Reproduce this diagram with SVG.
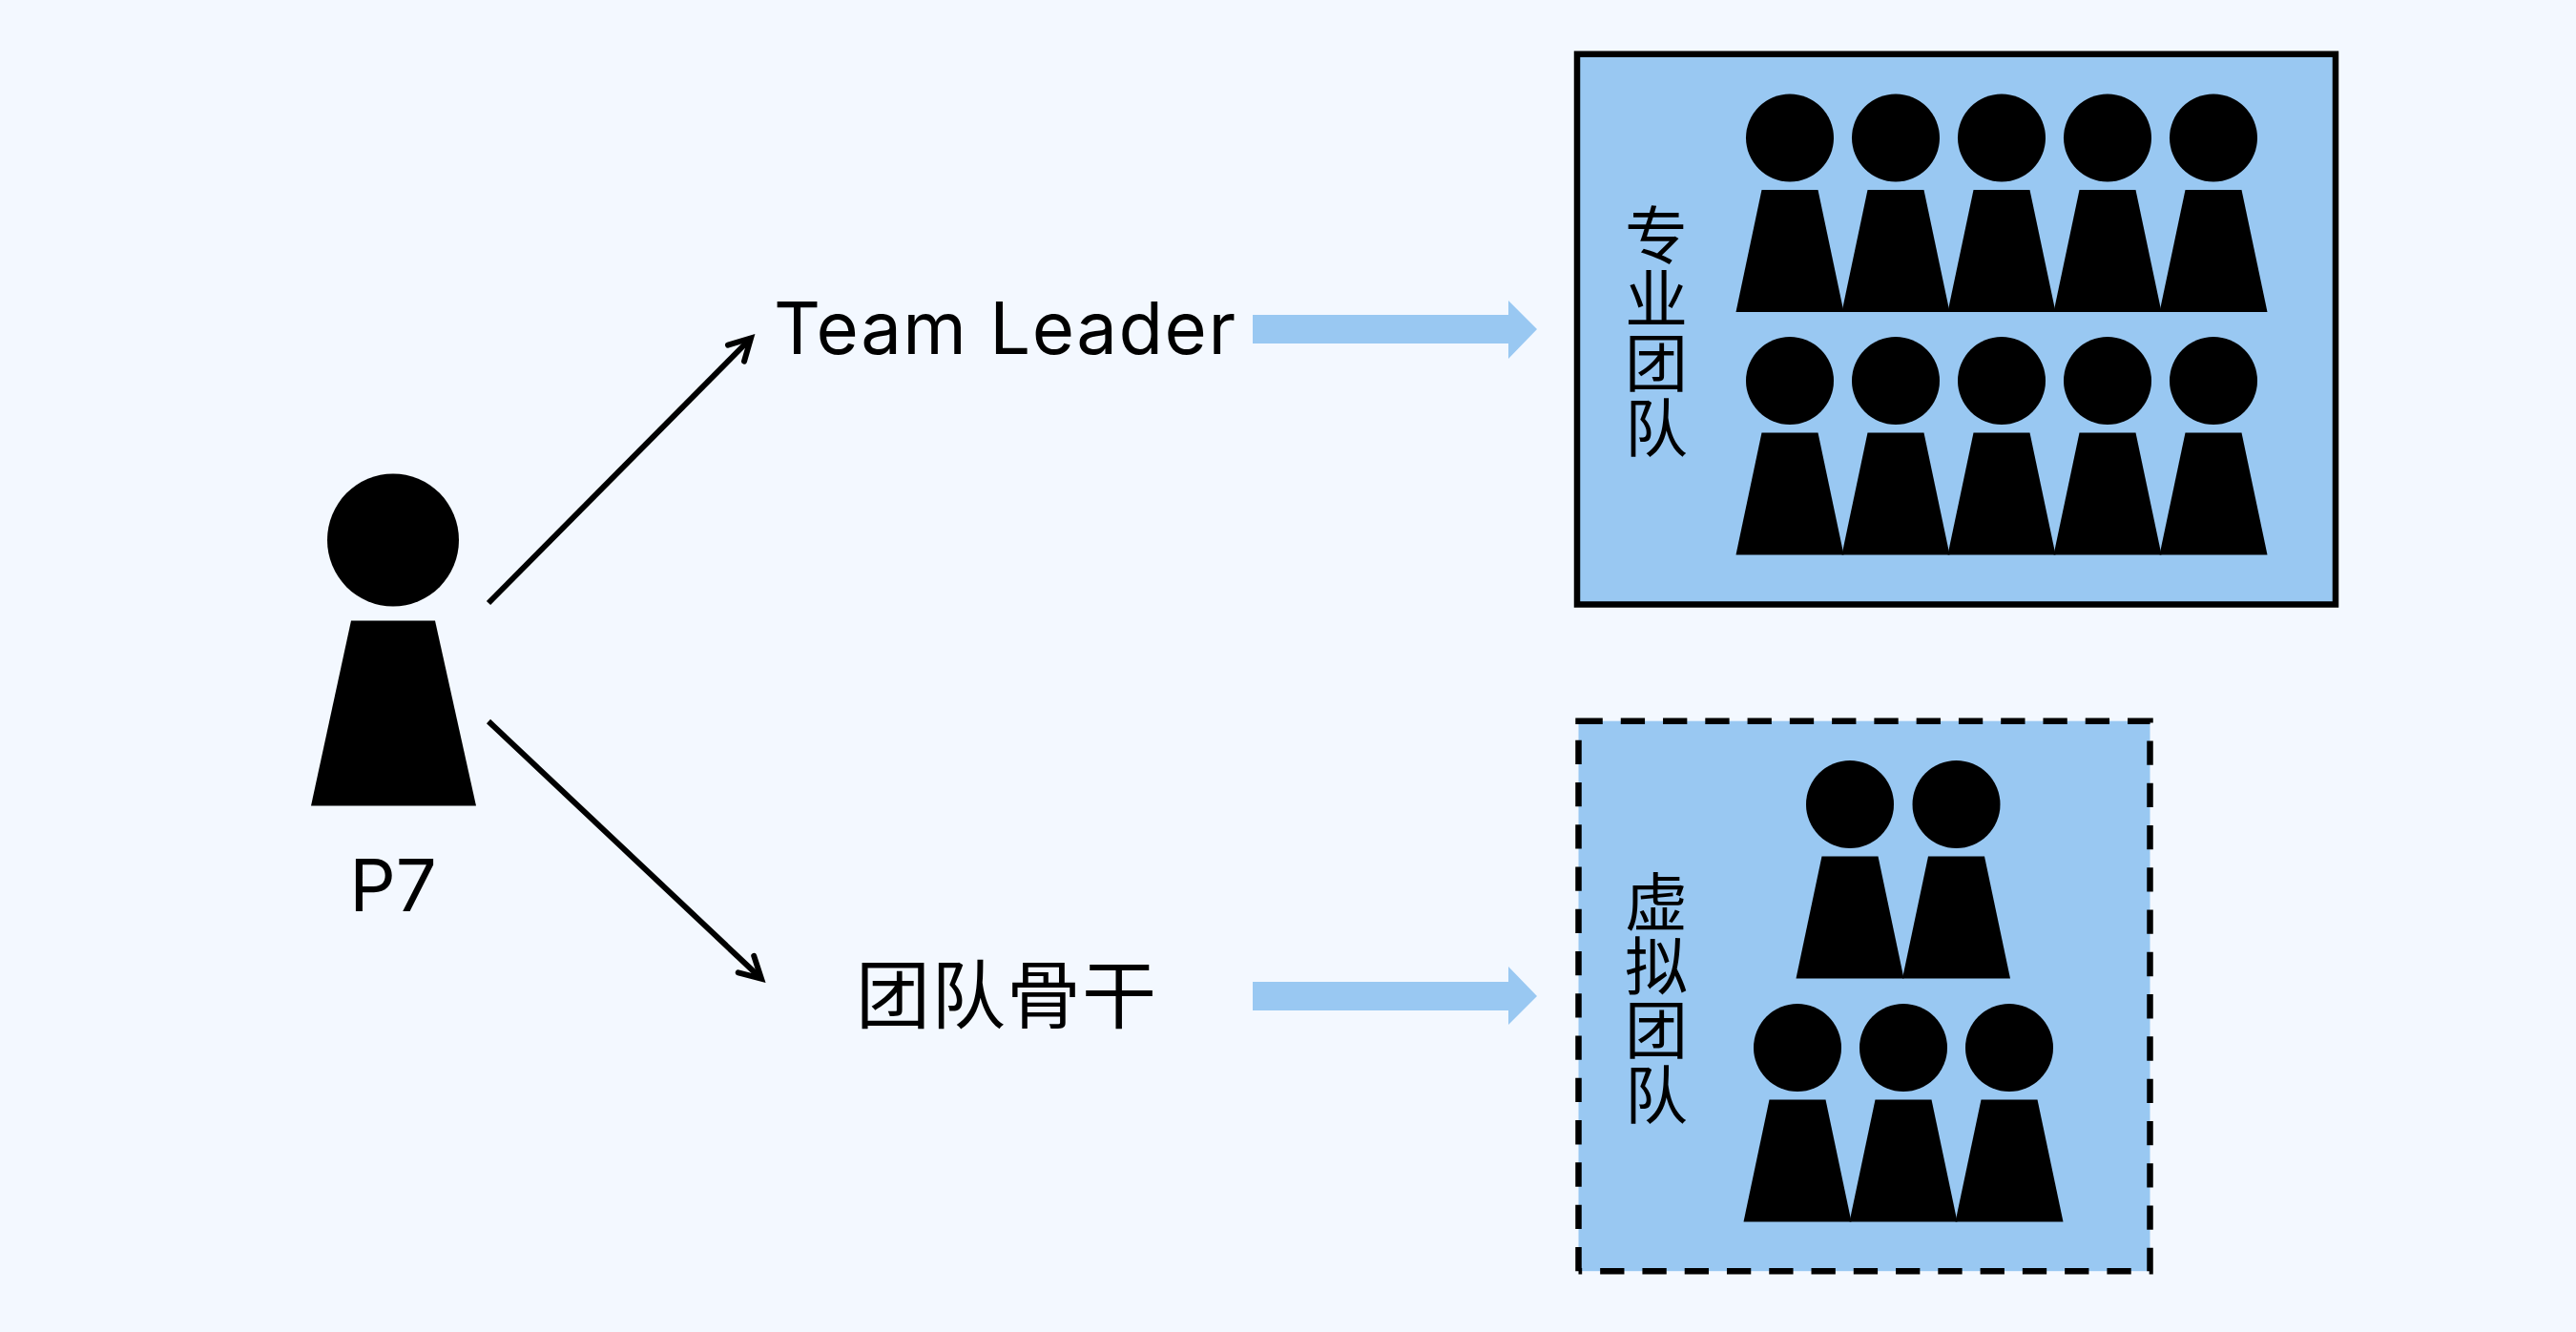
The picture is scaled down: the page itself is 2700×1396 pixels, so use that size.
<svg xmlns="http://www.w3.org/2000/svg" width="2700" height="1396" viewBox="0 0 2700 1396">
<defs>
<marker id="open" markerUnits="userSpaceOnUse" markerWidth="40" markerHeight="40" refX="30" refY="20" orient="auto" overflow="visible"><path d="M8,8 L30,20 L8,32" fill="none" stroke="#000" stroke-width="6" stroke-linecap="round" stroke-miterlimit="10"/></marker>
<g id="p"><circle cx="0" cy="0" r="46"/><path d="M-29.500,54.500 H29.500 L56.500,182.500 H-56.500 Z"/></g>
</defs>
<style>
text{font-family:"Inter","Liberation Sans","Noto Sans CJK SC",sans-serif;fill:#000}
.cjk{font-family:"Noto Sans CJK SC","Liberation Sans",sans-serif}
.v{font-family:"Noto Sans CJK SC",sans-serif;font-size:66px;letter-spacing:1.200px;writing-mode:vertical-rl;text-orientation:upright}
.box{fill:#99C8F2}
.dash{stroke:#000;stroke-width:6.500;stroke-dasharray:25.300 18.970;fill:none}
.block{fill:#99C8F2}
.line{stroke:#000;stroke-width:6;fill:none;marker-end:url(#open)}
</style>
<rect width="2700" height="1396" fill="#F3F8FF"/>
<g id="connectors">
<path class="line" d="M512,632 L787,354.500"/>
<path class="line" d="M512,756 L798,1025.700"/>
<path class="block" d="M1313,330 H1581 V315 L1611,345 L1581,376 V360 H1313 Z"/>
<path class="block" d="M1313,1029 H1581 V1013 L1611,1044 L1581,1074 V1059 H1313 Z"/>
</g>
<g id="node-p7">
<ellipse cx="412" cy="566" rx="69" ry="69.500"/>
<path d="M368,650.500 H456 L499,844.500 H326 Z"/>
<text x="412" y="954.500" font-size="76" text-anchor="middle">P7</text>
</g>
<g id="node-team-leader"><text x="811" y="370.500" font-size="76" textLength="484">Team Leader</text></g>
<g id="node-backbone"><text class="cjk" x="897" y="1072" font-size="78" letter-spacing="1">团队骨干</text></g>
<g id="node-pro-team">
<rect class="box" x="1653" y="56.700" width="795" height="576.800" stroke="#000" stroke-width="6.500"/>
<text class="v" x="1736" y="213">专业团队</text>
<use href="#p" x="1876" y="144.500"/><use href="#p" x="1987" y="144.500"/><use href="#p" x="2098" y="144.500"/><use href="#p" x="2209" y="144.500"/><use href="#p" x="2320" y="144.500"/>
<use href="#p" x="1876" y="399"/><use href="#p" x="1987" y="399"/><use href="#p" x="2098" y="399"/><use href="#p" x="2209" y="399"/><use href="#p" x="2320" y="399"/>
</g>
<g id="node-virtual-team">
<rect class="box" x="1654.500" y="755.700" width="599" height="576.500"/>
<path class="dash" d="M1651.300,755.700 H1654.500 M1654.500,755.700 H2253.500 V1332.200 H1654.500 M1654.500,1332.200 V755.700"/>
<text class="v" x="1736" y="912">虚拟团队</text>
<use href="#p" x="1939" y="843"/><use href="#p" x="2050.500" y="843"/>
<use href="#p" x="1884" y="1098"/><use href="#p" x="1995" y="1098"/><use href="#p" x="2106" y="1098"/>
</g>
</svg>
